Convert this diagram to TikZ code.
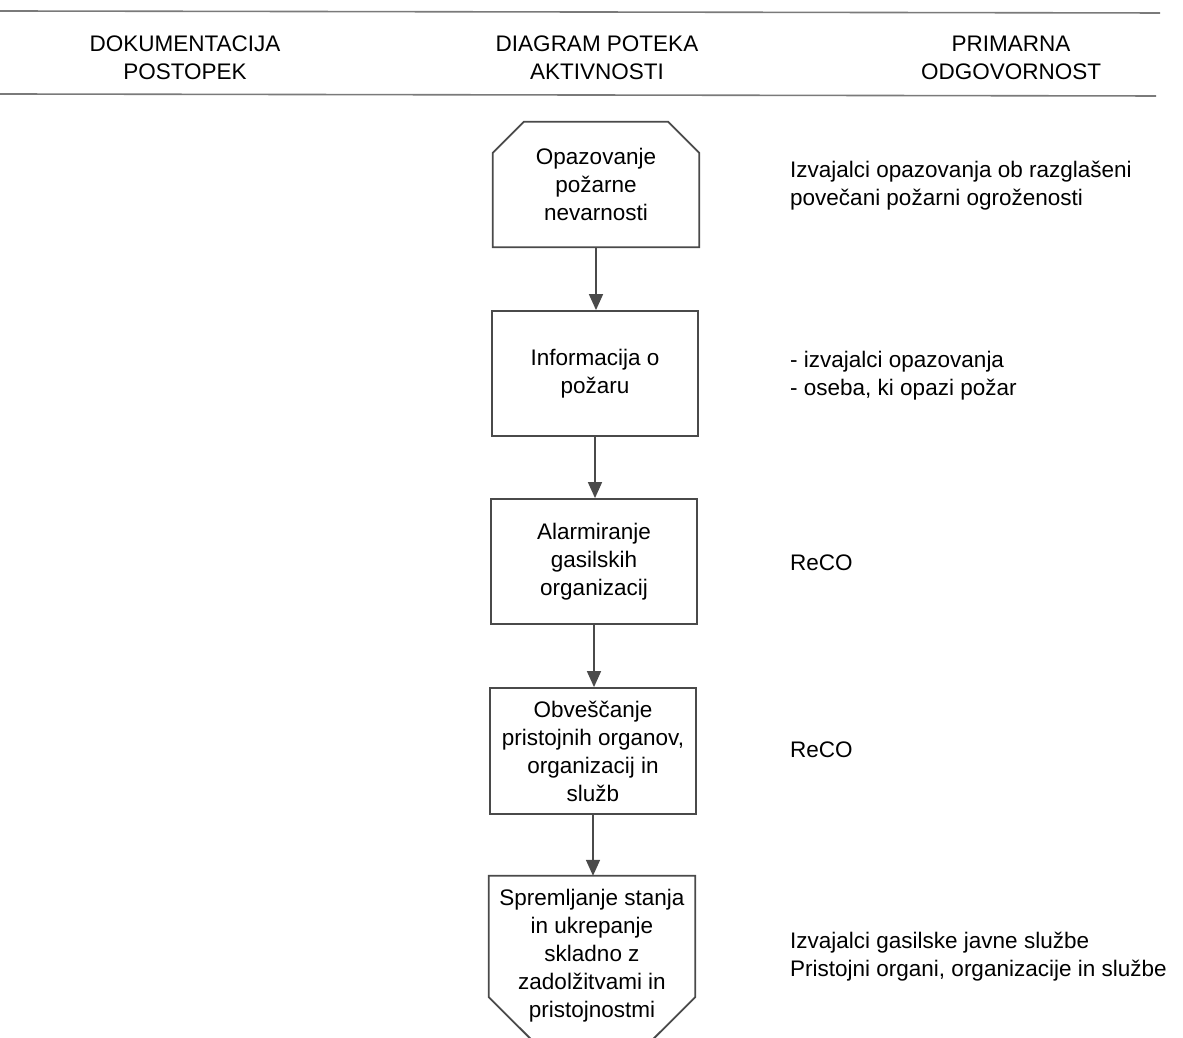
\documentclass[tikz,border=0pt]{standalone}
\usepackage{fontspec}
\setmainfont{Liberation Sans}
\usetikzlibrary{arrows.meta}
\definecolor{lc}{HTML}{4A4A4A}
\definecolor{hl}{HTML}{7A7A7A}
\definecolor{tc}{HTML}{000000}
\tikzset{
  txt/.style={inner sep=0pt, text=tc, font=\fontsize{22.5pt}{28pt}\selectfont},
  ctxt/.style={txt, align=center},
  ltxt/.style={txt, align=left, anchor=west},
  boxshape/.style={draw=lc, line width=1.8pt},
  flowbox/.style={ctxt, boxshape, minimum width=206pt, minimum height=125pt},
  ghost/.style={inner sep=0pt, minimum width=206pt, minimum height=125pt},
  arr/.style={draw=lc, line width=1.6pt, -{Triangle[width=14pt,length=16pt]}},
  hline/.style={draw=hl, line width=1.6pt}
}
\begin{document}
\begin{tikzpicture}[x=1pt,y=1pt]
\useasboundingbox (0,0) rectangle (1183,1038);
% header rules
\coordinate (h1a) at (0,1027);
\coordinate (h1b) at (1160,1025);
\coordinate (h2a) at (0,944);
\coordinate (h2b) at (1156,942);
\draw[hline] (h1a) -- (h1b);
\draw[hline] (h2a) -- (h2b);
% headers
\node[ctxt] (hd1) at (185,980) {DOKUMENTACIJA\\POSTOPEK};
\node[ctxt] (hd2) at (597,980) {DIAGRAM POTEKA\\AKTIVNOSTI};
\node[ctxt] (hd3) at (1011,980) {PRIMARNA\\ODGOVORNOST};
% box 1 (chamfered top)
\node[ghost] (b1) at (596,853.5) {};
\node[ctxt] (b1t) at (b1.center) {Opazovanje\\požarne\\nevarnosti};
\draw[boxshape] (b1.south west) -- (b1.south east) -- ([yshift=-31pt]b1.north east)
  -- ([xshift=-31pt]b1.north east) -- ([xshift=31pt]b1.north west)
  -- ([yshift=-31pt]b1.north west) -- cycle;
% boxes 2-4
\node[flowbox] (b2) at (595,664.5) {Informacija o\\požaru};
\node[flowbox] (b3) at (594,476.5) {Alarmiranje\\gasilskih\\organizacij};
\node[flowbox, minimum height=126pt] (b4) at (593,287) {Obveščanje\\pristojnih organov,\\organizacij in\\služb};
% box 5 (off-page shape, pointing down)
\node[ghost, minimum height=121pt] (b5) at (592,101.5) {};
\node[ctxt] (b5t) at (592,82) {Spremljanje stanja\\in ukrepanje\\skladno z\\zadolžitvami in\\pristojnostmi};
\coordinate (b5apex) at (592,-62);
\draw[boxshape] (b5.south west) -- (b5.north west) -- (b5.north east) -- (b5.south east) -- (b5apex) -- cycle;
% arrows
\draw[arr] (b1.south) -- (b1.south |- b2.north);
\draw[arr] (b2.south) -- (b2.south |- b3.north);
\draw[arr] (b3.south) -- (b3.south |- b4.north);
\draw[arr] (b4.south) -- (b4.south |- b5.north);
% responsibilities
\node[ltxt] (r1) at (790,852) {Izvajalci opazovanja ob razglašeni\\povečani požarni ogroženosti};
\node[ltxt] (r2) at (790,662.5) {- izvajalci opazovanja\\- oseba, ki opazi požar};
\node[ltxt] (r3) at (790,475) {ReCO};
\node[ltxt] (r4) at (790,288) {ReCO};
\node[ltxt] (r5) at (790,81) {Izvajalci gasilske javne službe\\Pristojni organi, organizacije in službe};
\end{tikzpicture}
\end{document}
